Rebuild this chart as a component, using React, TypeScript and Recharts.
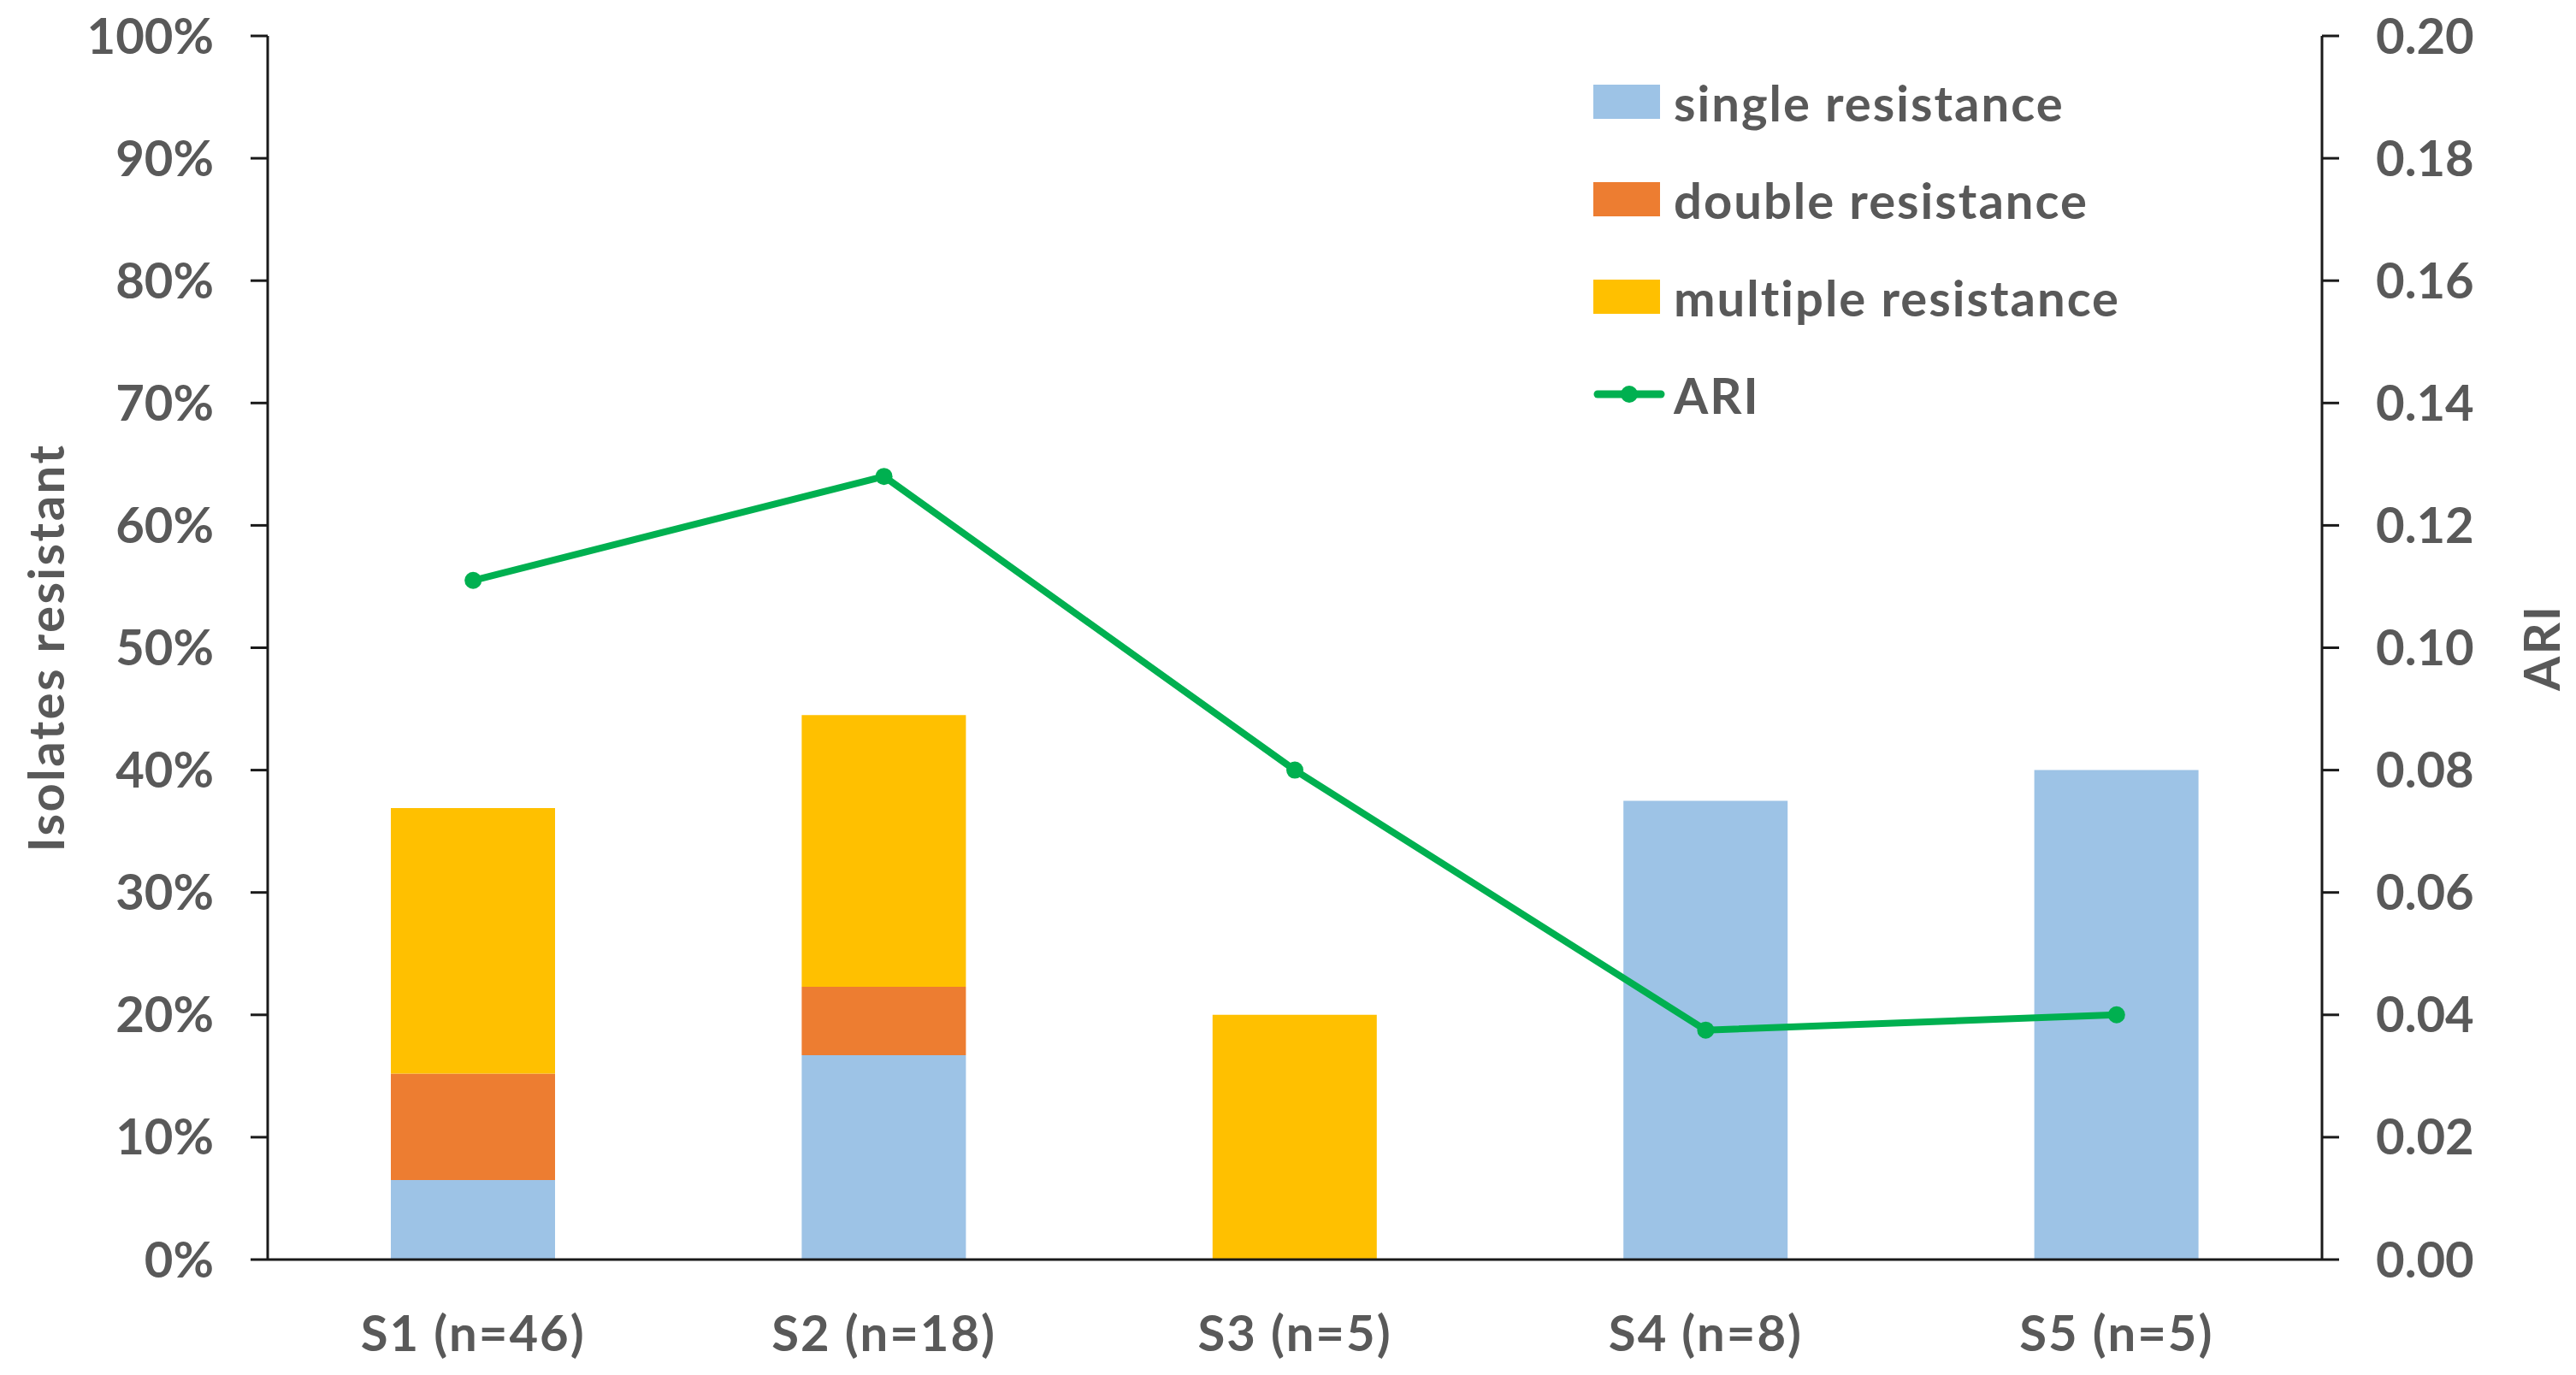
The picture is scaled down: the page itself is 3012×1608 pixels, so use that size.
import React from "react";
import { ComposedChart, Bar, Line, XAxis, YAxis, Legend } from "recharts";

const categories = ["S1 (n=46)", "S2 (n=18)", "S3 (n=5)", "S4 (n=8)", "S5 (n=5)"];
const singleResistance = [6.5, 16.7, 0, 37.5, 40];
const doubleResistance = [8.7, 5.6, 0, 0, 0];
const multipleResistance = [21.7, 22.2, 20, 0, 0];
const ari = [0.111, 0.128, 0.08, 0.0375, 0.04];

const percentTicks = [0, 10, 20, 30, 40, 50, 60, 70, 80, 90, 100];
const ariTicks = [0, 0.02, 0.04, 0.06, 0.08, 0.1, 0.12, 0.14, 0.16, 0.18, 0.2];
const legendOrder = ["single resistance", "double resistance", "multiple resistance", "ARI"];

const data = categories.map((name, i) => ({
    name,
    single: singleResistance[i],
    double: doubleResistance[i],
    multiple: multipleResistance[i],
    ari: ari[i],
}));

const FONT = "Lato, 'Open Sans', sans-serif";
const TEXT = "#595959";
const AXIS = "#1a1a1a";
const tickStyle = { fontSize: 58, fontWeight: 700, fill: TEXT, fontFamily: FONT };

const renderLegend = (props: any) => {
    const items = [...(props.payload || [])].sort(
        (a: any, b: any) => legendOrder.indexOf(a.value) - legendOrder.indexOf(b.value)
    );
    return (
        <div style={{ fontFamily: FONT }}>
            {items.map((item: any) => (
                <div
                    key={item.value}
                    style={{ display: "flex", alignItems: "center", height: 114 }}
                >
                    <svg width={84} height={44} style={{ marginRight: 10 }}>
                        {item.type === "line" ? (
                            <g>
                                <line x1={5} y1={22} x2={79} y2={22} stroke={item.color} strokeWidth={9} strokeLinecap="round" />
                                <circle cx={42} cy={22} r={10} fill={item.color} />
                            </g>
                        ) : (
                            <rect x={0} y={2} width={78} height={40} fill={item.color} />
                        )}
                    </svg>
                    <span style={{ fontSize: 58, fontWeight: 700, color: TEXT, letterSpacing: 2 }}>
                        {item.value}
                    </span>
                </div>
            ))}
        </div>
    );
};

const App = () => {
    return (
        <div style={{ fontFamily: FONT, marginTop: -10 }}>
            <ComposedChart
                width={2996}
                height={1602}
                data={data}
                margin={{ top: 44, right: 0, bottom: 0, left: 0 }}
            >
                <XAxis
                    dataKey="name"
                    axisLine={{ stroke: AXIS, strokeWidth: 3 }}
                    tickLine={false}
                    tickSize={0}
                    tickMargin={66}
                    height={127}
                    tick={{ ...tickStyle, letterSpacing: 2 }}
                    interval={0}
                />
                <YAxis
                    yAxisId="left"
                    domain={[0, 100]}
                    ticks={percentTicks}
                    tickFormatter={(v: number) => `${v}%`}
                    width={305}
                    axisLine={{ stroke: AXIS, strokeWidth: 3 }}
                    tickLine={{ stroke: AXIS, strokeWidth: 3 }}
                    tickSize={20}
                    tickMargin={43}
                    tick={tickStyle}
                    label={{
                        value: "Isolates resistant",
                        angle: -90,
                        position: "insideLeft",
                        offset: 46,
                        style: { ...tickStyle, textAnchor: "middle", letterSpacing: 2.5 },
                    }}
                />
                <YAxis
                    yAxisId="right"
                    orientation="right"
                    domain={[0, 0.2]}
                    ticks={ariTicks}
                    tickFormatter={(v: number) => v.toFixed(2)}
                    width={289}
                    axisLine={{ stroke: AXIS, strokeWidth: 3 }}
                    tickLine={{ stroke: AXIS, strokeWidth: 3 }}
                    tickSize={20}
                    tickMargin={43}
                    tick={tickStyle}
                    label={{
                        value: "ARI",
                        angle: -90,
                        position: "insideRight",
                        offset: 32,
                        style: { ...tickStyle, textAnchor: "middle", letterSpacing: 2 },
                    }}
                />
                <Legend
                    content={renderLegend}
                    layout="vertical"
                    align="center"
                    verticalAlign="middle"
                    wrapperStyle={{ position: "absolute", left: 1855, top: 64, width: "auto" }}
                />
                <Bar yAxisId="left" dataKey="single" name="single resistance" stackId="a" fill="#9DC3E6" barSize={192} isAnimationActive={false} />
                <Bar yAxisId="left" dataKey="double" name="double resistance" stackId="a" fill="#ED7D31" barSize={192} isAnimationActive={false} />
                <Bar yAxisId="left" dataKey="multiple" name="multiple resistance" stackId="a" fill="#FFC000" barSize={192} isAnimationActive={false} />
                <Line
                    yAxisId="right"
                    dataKey="ari"
                    name="ARI"
                    type="linear"
                    stroke="#00B050"
                    strokeWidth={8}
                    dot={{ r: 10, fill: "#00B050", stroke: "#00B050", strokeWidth: 0 }}
                    legendType="line"
                    isAnimationActive={false}
                />
            </ComposedChart>
        </div>
    );
};

export default App;
